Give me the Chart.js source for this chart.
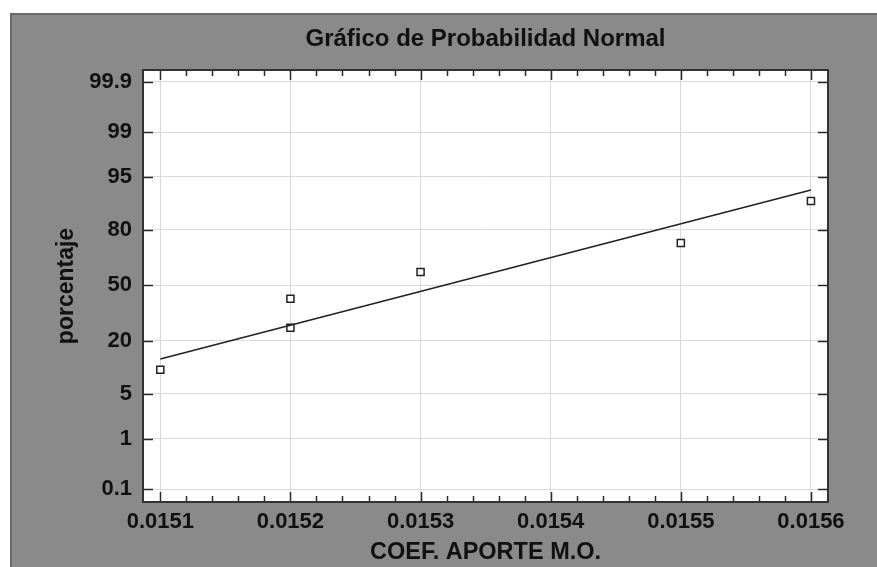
<!DOCTYPE html>
<html>
<head>
<meta charset="utf-8">
<script src="https://cdn.jsdelivr.net/npm/chart.js@4.4.1/dist/chart.umd.min.js"></script>
<style>
  html, body { margin: 0; padding: 0; background: #ffffff; }
  #wrap { width: 877px; height: 567px; position: relative; }
</style>
</head>
<body>
<div id="wrap"><canvas id="c" width="877" height="567"></canvas></div>
<script>
// ---- data ----
const titleText = 'Gráfico de Probabilidad Normal';
const xAxisLabel = 'COEF. APORTE M.O.';
const yAxisLabel = 'porcentaje';
const xValues = [0.0151, 0.0152, 0.0152, 0.0153, 0.0155, 0.0156];
const percentValues = [10, 26, 42, 58, 74, 90];
const fitX = [0.0151, 0.0156];
const fitPercent = [13.2, 92.6];
const xTickValues = [0.0151, 0.0152, 0.0153, 0.0154, 0.0155, 0.0156];
const yTickPercents = [0.1, 1, 5, 20, 50, 80, 95, 99, 99.9];
const yTickLabels = ['0.1', '1', '5', '20', '50', '80', '95', '99', '99.9'];

// inverse normal CDF (Acklam) : percent -> z
function probit(pct) {
  const p = pct / 100;
  const a = [-3.969683028665376e+01, 2.209460984245205e+02, -2.759285104469687e+02, 1.383577518672690e+02, -3.066479806614716e+01, 2.506628277459239e+00];
  const b = [-5.447609879822406e+01, 1.615858368580409e+02, -1.556989798598866e+02, 6.680131188771972e+01, -1.328068155288572e+01];
  const c = [-7.784894002430293e-03, -3.223964580411365e-01, -2.400758277161838e+00, -2.549732539343734e+00, 4.374664141464968e+00, 2.938163982698783e+00];
  const d = [7.784695709041462e-03, 3.224671290700398e-01, 2.445134137142996e+00, 3.754408661907416e+00];
  const pl = 0.02425, ph = 1 - pl;
  let q, r;
  if (p < pl) {
    q = Math.sqrt(-2 * Math.log(p));
    return (((((c[0]*q+c[1])*q+c[2])*q+c[3])*q+c[4])*q+c[5]) / ((((d[0]*q+d[1])*q+d[2])*q+d[3])*q+1);
  } else if (p <= ph) {
    q = p - 0.5; r = q * q;
    return (((((a[0]*r+a[1])*r+a[2])*r+a[3])*r+a[4])*r+a[5])*q / (((((b[0]*r+b[1])*r+b[2])*r+b[3])*r+b[4])*r+1);
  } else {
    q = Math.sqrt(-2 * Math.log(1 - p));
    return -(((((c[0]*q+c[1])*q+c[2])*q+c[3])*q+c[4])*q+c[5]) / ((((d[0]*q+d[1])*q+d[2])*q+d[3])*q+1);
  }
}

const pointData = xValues.map((x, i) => ({ x: x, y: probit(percentValues[i]) }));
const fitData = fitX.map((x, i) => ({ x: x, y: probit(fitPercent[i]) }));
const yTickZ = yTickPercents.map(probit);

const FONT = "'Liberation Sans', Arial, sans-serif";
const TEXT = '#111111';

const panelPlugin = {
  id: 'panel',
  beforeDraw(chart) {
    const ctx = chart.ctx;
    ctx.save();
    ctx.fillStyle = '#ffffff';
    ctx.fillRect(0, 0, chart.width, chart.height);
    ctx.fillStyle = '#8a8a8a';
    ctx.fillRect(10, 13, chart.width - 10, chart.height - 13);
    ctx.strokeStyle = '#6a6a6a';
    ctx.lineWidth = 2;
    ctx.beginPath();
    ctx.moveTo(11, chart.height);
    ctx.lineTo(11, 14);
    ctx.lineTo(chart.width, 14);
    ctx.stroke();
    const a = chart.chartArea;
    ctx.fillStyle = '#ffffff';
    ctx.fillRect(a.left, a.top, a.right - a.left, a.bottom - a.top);
    ctx.restore();
  },
  afterDraw(chart) {
    const ctx = chart.ctx;
    const a = chart.chartArea;
    const xs = chart.scales.x, ys = chart.scales.y;
    ctx.save();
    ctx.strokeStyle = '#2a2a2a';
    ctx.lineWidth = 1.5;
    ctx.beginPath();
    // y ticks inward, both sides
    yTickZ.forEach(z => {
      const py = Math.round(ys.getPixelForValue(z)) + 0.5;
      ctx.moveTo(a.left, py); ctx.lineTo(a.left + 10, py);
      ctx.moveTo(a.right, py); ctx.lineTo(a.right - 10, py);
    });
    // x major ticks
    xTickValues.forEach(v => {
      const px = Math.round(xs.getPixelForValue(v)) + 0.5;
      ctx.moveTo(px, a.bottom); ctx.lineTo(px, a.bottom - 10);
      ctx.moveTo(px, a.top); ctx.lineTo(px, a.top + 10);
    });
    // x minor ticks (5 subdivisions)
    for (let i = 0; i < xTickValues.length - 1; i++) {
      const step = (xTickValues[i + 1] - xTickValues[i]) / 5;
      for (let k = 1; k < 5; k++) {
        const px = Math.round(xs.getPixelForValue(xTickValues[i] + k * step)) + 0.5;
        ctx.moveTo(px, a.bottom); ctx.lineTo(px, a.bottom - 6);
        ctx.moveTo(px, a.top); ctx.lineTo(px, a.top + 6);
      }
    }
    ctx.stroke();
    // frame
    ctx.strokeStyle = '#333333';
    ctx.lineWidth = 2;
    ctx.strokeRect(a.left, a.top, a.right - a.left, a.bottom - a.top);
    ctx.restore();
  }
};

new Chart(document.getElementById('c'), {
  type: 'scatter',
  data: {
    datasets: [
      {
        label: 'fit',
        data: fitData,
        showLine: true,
        borderColor: '#222222',
        borderWidth: 1.6,
        pointRadius: 0,
        fill: false
      },
      {
        label: 'data',
        data: pointData,
        pointStyle: 'rect',
        pointRadius: 5,
        pointBorderColor: '#222222',
        pointBackgroundColor: '#ffffff',
        pointBorderWidth: 1.5,
        showLine: false
      }
    ]
  },
  options: {
    responsive: false,
    animation: false,
    devicePixelRatio: 1,
    layout: { padding: { left: 10, right: 49, top: 0, bottom: 0 } },
    plugins: {
      legend: { display: false },
      tooltip: { enabled: false },
      title: {
        display: true,
        text: titleText,
        fullSize: false,
        color: TEXT,
        font: { family: FONT, size: 24, weight: 'bold' },
        padding: { top: 25, bottom: 16.2 }
      }
    },
    scales: {
      x: {
        type: 'linear',
        min: 0.0150867,
        max: 0.0156131,
        afterBuildTicks(scale) { scale.ticks = xTickValues.map(v => ({ value: v })); },
        afterFit(scale) { scale.height = 65; },
        ticks: {
          color: TEXT,
          font: { family: FONT, size: 22, weight: 'bold' },
          padding: 7,
          maxRotation: 0,
          callback: (v) => Number(v).toFixed(4)
        },
        grid: { color: '#d9d9d9', lineWidth: 1, drawTicks: false },
        border: { display: false },
        title: {
          display: true,
          text: xAxisLabel,
          color: TEXT,
          font: { family: FONT, size: 23.5, weight: 'bold' },
          padding: { top: 0, bottom: 0 }
        }
      },
      y: {
        type: 'linear',
        min: -3.287,
        max: 3.268,
        afterBuildTicks(scale) { scale.ticks = yTickZ.map(v => ({ value: v })); },
        afterFit(scale) { scale.width = 133; },
        ticks: {
          color: TEXT,
          font: { family: FONT, size: 22, weight: 'bold' },
          padding: 11,
          callback: function (v, idx) { return yTickLabels[idx]; }
        },
        grid: { color: '#d9d9d9', lineWidth: 1, drawTicks: false },
        border: { display: false },
        title: {
          display: true,
          text: yAxisLabel,
          color: TEXT,
          font: { family: FONT, size: 23, weight: 'bold' },
          padding: { top: 43, bottom: 0 }
        }
      }
    }
  },
  plugins: [panelPlugin]
});
</script>
</body>
</html>
